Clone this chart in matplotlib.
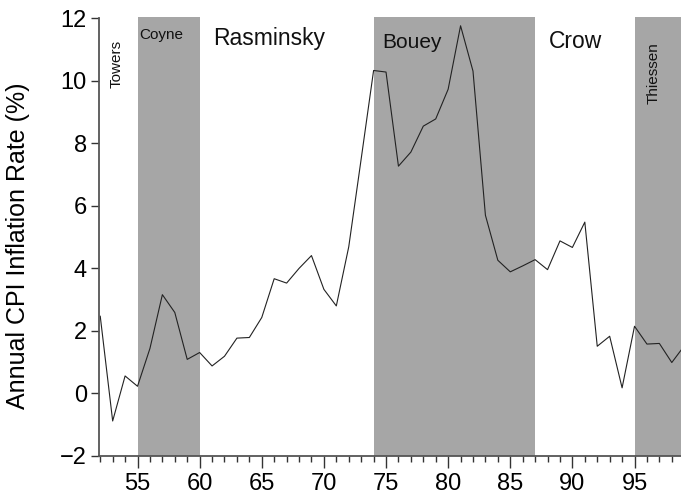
import matplotlib
matplotlib.use("Agg")
import matplotlib.pyplot as plt
from matplotlib.ticker import MultipleLocator

plt.rcParams['font.family'] = ['Liberation Sans', 'DejaVu Sans']

years = list(range(52, 100))
inflation = [2.47, -0.88, 0.56, 0.23, 1.44, 3.16, 2.59, 1.09, 1.31, 0.88,
             1.19, 1.77, 1.79, 2.43, 3.67, 3.53, 4.00, 4.41, 3.33, 2.80,
             4.69, 7.50, 10.33, 10.28, 7.27, 7.72, 8.55, 8.78, 9.73, 11.76,
             10.31, 5.70, 4.26, 3.89, 4.08, 4.28, 3.96, 4.88, 4.67, 5.48,
             1.51, 1.83, 0.18, 2.15, 1.58, 1.60, 0.99, 1.52]

shaded_terms = [(55, 60), (74, 87), (95, 100)]
governors = ["Towers", "Coyne", "Rasminsky", "Bouey", "Crow", "Thiessen"]
gov_x = [53.3, 55.1, 61.1, 74.7, 88.1, 96.5]
gov_y = [11.3, 11.7, 11.72, 11.52, 11.63, 11.22]
gov_size = [11, 11, 16.5, 15, 16.5, 11]
gov_rot = [90, 0, 0, 0, 0, 90]

fig = plt.figure(figsize=(6.81, 4.95), dpi=100)
ax = fig.add_axes([99/681, 39/495, 582/681, (456-16.7)/495])

for a, b in shaded_terms:
    ax.axvspan(a, b, color='#a6a6a6', lw=0, zorder=0)

ax.plot(years, inflation, color='#222222', lw=0.8, zorder=2)

for name, x, y, s, r in zip(governors, gov_x, gov_y, gov_size, gov_rot):
    ha = 'center' if r == 90 else 'left'
    ax.text(x, y, name, fontsize=s, rotation=r, ha=ha, va='top', color='#111111')

ax.set_xlim(51.9, 51.9 + 582/12.425)
ax.set_ylim(-2, 12.05)

ax.xaxis.set_major_locator(MultipleLocator(5))
ax.xaxis.set_minor_locator(MultipleLocator(1))
ax.yaxis.set_major_locator(MultipleLocator(2))

for s in ['top', 'right']:
    ax.spines[s].set_visible(False)
for s in ['left', 'bottom']:
    ax.spines[s].set_color('#555555')
    ax.spines[s].set_linewidth(1.3)
ax.spines['left'].set_bounds(-2, 12)

ax.tick_params(axis='x', which='major', length=8.6, width=1.0, color='#333333',
               labelsize=17, pad=4)
ax.tick_params(axis='x', which='minor', length=4.3, width=1.0, color='#333333')
ax.tick_params(axis='y', which='major', length=5.8, width=1.0, color='#333333',
               labelsize=17, pad=3)

ax.set_yticks([-2, 0, 2, 4, 6, 8, 10, 12])
ax.set_yticklabels(['\u22122', '0', '2', '4', '6', '8', '10', '12'])

ax.set_ylabel('Annual CPI Inflation Rate (%)', fontsize=18)
ax.yaxis.set_label_coords(-0.119, 0.478)

fig.savefig('out.png', dpi=100)
